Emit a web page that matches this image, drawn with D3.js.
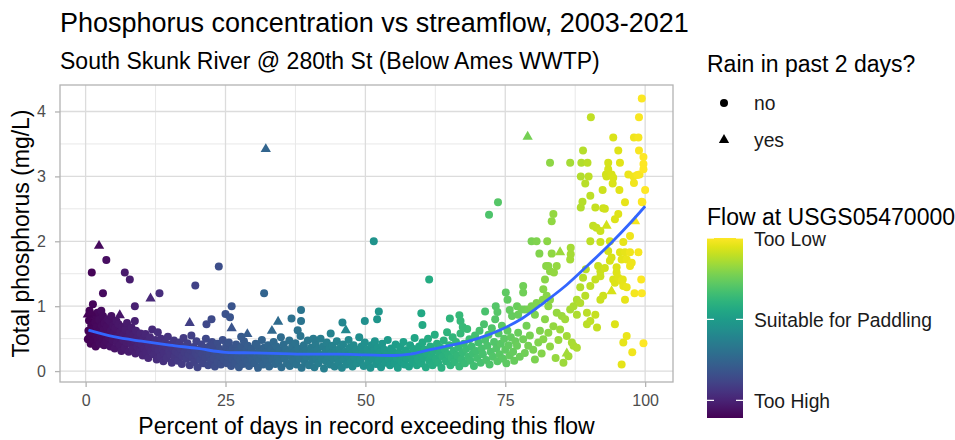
<!DOCTYPE html>
<html>
<head>
<meta charset="utf-8">
<script src="https://cdn.jsdelivr.net/npm/d3@7"></script>
<style>
  body { margin: 0; background: #fff; }
  svg { font-family: "Liberation Sans", Arial, sans-serif; }
</style>
</head>
<body>
<svg width="955" height="440"></svg>
<script>
// samples without rain: [percent of days exceeding flow, total phosphorus mg/L]
const rainNo = [
  [0.4,0.49],[0.5,0.62],[0.6,0.78],[0.7,0.93],[0.8,0.55],[0.9,0.42],[1.0,0.70],[1.1,0.85],[1.2,0.58],[1.3,1.03],
  [1.4,0.47],[1.5,0.66],[1.6,0.85],[1.7,0.75],[1.8,0.38],[1.9,0.55],[2.0,0.68],[2.1,0.90],[2.2,0.48],[2.3,0.61],
  [2.4,0.79],[2.5,0.42],[2.6,0.55],[2.8,0.93],[2.9,0.70],[3.0,0.50],[3.1,0.85],[3.2,0.63],[3.3,0.40],[3.4,0.74],
  [3.6,0.57],[3.7,0.46],[3.8,0.68],[4.0,0.80],[4.1,0.52],[4.3,0.77],[4.4,0.38],[4.5,0.62],[4.6,0.85],[4.8,0.47],
  [4.9,0.70],[5.0,0.58],[5.2,0.35],[5.3,0.66],[5.5,0.77],[5.6,0.44],[5.8,0.53],[5.9,0.72],[6.1,0.40],[6.2,0.60],
  [6.4,0.31],[6.5,0.68],[6.7,0.48],[6.8,0.56],[7.0,0.36],[7.1,0.64],[7.3,0.44],[7.4,0.74],[7.6,0.52],[7.7,0.30],
  [7.9,0.60],[8.1,0.42],[8.2,0.67],[8.4,0.34],[8.5,0.55],[8.7,0.47],[8.9,0.27],[9.0,0.62],[9.2,0.38],[9.3,0.52],
  [9.5,0.44],[9.7,0.30],[9.8,0.58],
  [10.0,0.41],[10.2,0.24],[10.3,0.50],[10.5,0.35],[10.7,0.57],[10.8,0.29],[11.0,0.45],[11.2,0.20],[11.3,0.38],[11.5,0.52],
  [11.7,0.31],[11.9,0.64],[12.0,0.43],[12.2,0.26],[12.4,0.36],[12.5,0.48],[12.7,0.18],[12.9,0.60],[13.0,0.32],[13.2,0.42],
  [13.4,0.22],[13.5,0.50],[13.7,0.35],[13.9,0.15],[14.0,0.28],[14.2,0.44],[14.4,0.38],[14.5,0.20],[14.7,0.53],[14.9,0.31],
  [15.1,0.25],[15.2,0.41],[15.4,0.13],[15.6,0.35],[15.8,0.47],[15.9,0.22],[16.1,0.30],[16.3,0.39],[16.5,0.16],[16.6,0.27],
  [16.8,0.44],[17.0,0.34],[17.2,0.11],[17.3,0.23],[17.5,0.51],[17.7,0.29],[17.9,0.38],[18.0,0.19],[18.2,0.43],[18.4,0.26],
  [18.6,0.09],[18.7,0.33],[18.9,0.55],[19.1,0.21],[19.3,0.37],[19.4,0.14],[19.6,0.28],[19.8,0.46],
  [20.0,0.06],[20.1,0.24],[20.3,0.33],[20.5,0.17],[20.7,0.41],[20.8,0.27],[21.0,0.12],[21.2,0.36],[21.4,0.21],[21.5,0.50],
  [21.7,0.30],[21.9,0.09],[22.1,0.25],[22.2,0.39],[22.4,0.16],[22.6,0.45],[22.8,0.32],[22.9,0.20],[23.1,0.07],[23.3,0.28],
  [23.5,0.42],[23.6,0.14],[23.8,0.35],[24.0,0.23],[24.2,0.10],[24.3,0.31],[24.5,0.48],[24.7,0.18],[24.9,0.27],[25.1,0.38],
  [25.3,0.12],[25.4,0.22],[25.6,0.44],[25.8,0.30],[26.0,0.08],[26.2,0.19],[26.3,0.35],[26.5,0.26],[26.7,0.13],[26.9,0.41],
  [27.1,0.22],[27.2,0.31],[27.4,0.06],[27.6,0.17],[27.8,0.37],[28.0,0.27],[28.1,0.11],[28.3,0.46],[28.5,0.21],[28.7,0.32],
  [28.9,0.15],[29.0,0.39],[29.2,0.08],[29.4,0.25],[29.6,0.34],[29.8,0.18],
  [30.0,0.28],[30.2,0.12],[30.4,0.42],[30.6,0.22],[30.8,0.05],[31.0,0.33],[31.1,0.17],[31.3,0.26],[31.5,0.48],[31.7,0.10],
  [31.9,0.36],[32.1,0.21],[32.3,0.30],[32.4,0.14],[32.6,0.40],[32.8,0.07],[33.0,0.25],[33.2,0.34],[33.4,0.18],[33.6,0.45],
  [33.7,0.28],[33.9,0.11],[34.1,0.38],[34.3,0.22],[34.5,0.15],[34.7,0.32],[34.9,0.52],[35.0,0.06],[35.2,0.26],[35.4,0.41],
  [35.6,0.19],[35.8,0.33],[36.0,0.12],[36.2,0.29],[36.4,0.47],[36.5,0.08],[36.7,0.23],[36.9,0.37],[37.1,0.16],[37.3,0.30],
  [37.5,0.43],[37.7,0.10],[37.9,0.25],[38.0,0.35],[38.2,0.19],[38.4,0.54],[38.6,0.05],[38.8,0.28],[39.0,0.40],[39.2,0.14],
  [39.4,0.32],[39.5,0.22],[39.7,0.47],[39.9,0.09],[40.1,0.27],[40.3,0.36],[40.5,0.17],[40.7,0.30],[40.9,0.06],[41.1,0.42],
  [41.2,0.21],[41.4,0.33],[41.6,0.12],[41.8,0.25],[42.0,0.50],[42.2,0.18],[42.4,0.38],[42.6,0.04],[42.8,0.29],[43.0,0.15],
  [43.1,0.44],[43.3,0.23],[43.5,0.34],[43.7,0.10],[43.9,0.27],[44.1,0.39],[44.3,0.19],[44.5,0.07],[44.7,0.31],[44.9,0.46],
  [45.0,0.22],[45.2,0.13],[45.4,0.35],[45.6,0.27],[45.8,0.05],[46.0,0.41],[46.2,0.18],[46.4,0.30],[46.6,0.10],[46.8,0.24],
  [47.0,0.48],[47.2,0.36],[47.4,0.15],[47.6,0.28],[47.7,0.07],[47.9,0.40],[48.1,0.21],[48.3,0.33],[48.5,0.12],[48.7,0.26],
  [48.9,0.52],[49.1,0.17],[49.3,0.38],[49.5,0.29],[49.7,0.08],[49.9,0.44],[50.1,0.23],[50.3,0.33],[50.5,0.14],[50.7,0.27],
  [50.9,0.05],[51.1,0.40],[51.3,0.19],[51.5,0.31],[51.7,0.46],[51.9,0.11],[52.0,0.25],[52.2,0.36],[52.4,0.16],[52.6,0.29],
  [52.8,0.06],[53.0,0.42],[53.2,0.21],[53.4,0.33],[53.6,0.13],[53.8,0.26],[54.0,0.48],[54.2,0.18],[54.4,0.09],[54.6,0.35],
  [54.8,0.23],[55.0,0.30],[55.2,0.12],[55.4,0.41],[55.6,0.20],[55.8,0.05],[56.0,0.27],[56.2,0.37],[56.4,0.15],[56.6,0.24],
  [56.8,0.45],[57.0,0.10],[57.2,0.32],[57.4,0.19],[57.6,0.28],[57.8,0.07],[58.0,0.40],[58.2,0.22],[58.4,0.14],[58.6,0.34],
  [58.8,0.51],[59.0,0.26],[59.2,0.09],[59.4,0.18],[59.6,0.38],[59.8,0.29],
  [60.0,0.12],[60.2,0.44],[60.4,0.21],[60.6,0.33],[60.8,0.06],[61.0,0.27],[61.2,0.50],[61.4,0.16],[61.6,0.38],[61.8,0.24],
  [62.0,0.09],[62.2,0.31],[62.4,0.56],[62.6,0.19],[62.8,0.42],[63.0,0.13],[63.2,0.28],[63.4,0.36],[63.6,0.05],[63.8,0.22],
  [64.0,0.47],[64.2,0.33],[64.4,0.15],[64.6,0.60],[64.8,0.26],[65.0,0.40],[65.2,0.09],[65.4,0.20],[65.6,0.52],[65.8,0.31],
  [66.0,0.14],[66.2,0.45],[66.4,0.24],[66.6,0.36],[66.8,0.07],[67.0,0.58],[67.2,0.18],[67.4,0.29],[67.6,0.42],[67.8,0.12],
  [68.0,0.34],[68.2,0.65],[68.4,0.22],[68.6,0.49],[68.8,0.16],[69.0,0.38],[69.2,0.27],[69.4,0.08],[69.6,0.55],[69.8,0.31],
  [70.0,0.20],[70.2,0.44],[70.4,0.62],[70.6,0.13],[70.8,0.35],[71.0,0.26],[71.2,0.72],[71.4,0.48],[71.6,0.17],[71.8,0.39],
  [72.0,0.56],[72.2,0.10],[72.4,0.30],[72.6,0.66],[72.8,0.22],[73.0,0.45],[73.2,0.80],[73.4,0.35],[73.6,0.15],[73.8,0.58],
  [74.0,0.26],[74.2,0.42],[74.4,0.70],[74.6,0.19],[74.8,0.50],[75.0,0.33],[75.2,0.12],[75.4,0.62],[75.6,0.40],[75.8,0.24],
  [76.0,0.52],[76.2,0.85],[76.4,0.30],[76.6,0.16],[76.8,0.46],
  [77.1,1.00],[77.3,0.59],[77.1,0.39],[77.3,0.87],[77.6,0.22],[77.9,0.95],[78.2,0.49],[78.2,1.31],[78.2,1.21],[78.5,0.28],
  [78.5,0.95],[78.8,0.70],[79.1,0.39],[79.1,0.95],[79.4,0.55],[79.7,1.00],[79.7,2.00],[80.0,0.33],[80.0,0.98],[80.3,0.87],
  [80.3,0.18],[80.6,1.05],[80.6,2.00],[80.9,0.44],[81.1,1.81],[81.2,0.62],[81.5,0.27],[81.7,1.10],[81.8,0.49],[81.8,1.26],
  [82.1,1.41],[82.1,0.80],[82.3,1.62],[82.4,1.16],[82.5,2.00],[82.7,0.59],[82.7,1.62],[82.7,1.00],[83.0,1.10],[83.0,1.54],
  [83.0,0.38],[83.0,3.21],[83.3,1.81],[83.3,2.31],[83.6,0.69],[83.6,2.42],[83.7,1.52],[84.0,0.20],[84.2,0.90],[84.2,1.62],
  [84.5,0.48],[84.8,0.64],[85.1,0.85],[85.4,0.13],[85.7,0.80],[86.0,0.54],[86.3,0.23],[86.6,0.95],[86.6,1.72],[86.6,3.21],
  [86.7,1.80],[86.7,1.90],[86.9,0.44],[87.2,1.00],[87.2,0.39],[87.8,0.87],[87.8,0.36],[87.8,1.10],[88.4,1.05],[88.4,1.29],
  [88.5,2.52],[88.5,3.00],[88.6,3.21],[88.8,2.61],[88.9,1.44],[88.9,3.40],[89.3,1.16],[89.3,2.89],[89.4,1.57],[89.6,0.72],
  [89.6,0.90],[89.7,3.21],[89.9,3.00],
  [90.2,0.77],[90.2,1.31],[90.2,2.00],[90.2,2.70],[90.3,3.91],[90.7,2.24],[91.1,0.87],[91.1,1.41],[91.1,2.52],[91.3,2.21],
  [91.4,0.67],[91.6,1.62],[92.0,1.46],[92.0,1.99],[92.0,1.54],[92.0,1.10],[92.0,2.16],[92.4,2.79],[92.5,1.16],[92.5,2.51],
  [92.8,1.59],[92.8,2.50],[93.0,3.03],[93.1,3.00],[93.4,1.85],[93.4,3.11],[93.4,3.21],[93.7,2.00],[93.7,1.70],[94.0,1.75],
  [94.0,3.03],[94.2,2.89],[94.3,1.41],[94.3,2.98],[94.3,3.60],[94.6,1.36],[94.6,0.72],[94.6,2.34],[94.9,1.52],[94.9,1.60],
  [95.2,1.44],[95.2,2.42],[95.2,3.40],[95.4,2.79],[95.5,1.83],[95.5,3.21],[95.8,1.72],[95.8,1.39],[95.8,0.10],[96.0,1.41],
  [96.1,1.99],[96.1,0.44],[96.1,1.31],[96.4,1.83],[96.4,1.10],[96.4,2.60],[96.7,1.72],[96.7,0.54],[96.7,1.29],[97.0,3.03],
  [97.3,1.83],[97.3,1.62],[97.3,2.08],[97.6,1.67],[97.7,0.29],[97.9,3.00],[98.0,2.90],[98.0,3.60],[98.1,1.20],[98.6,3.02],
  [98.8,1.83],[98.8,3.60],[98.9,3.40],[98.9,3.91],[99.0,3.03],[99.3,1.41],[99.4,1.20],[99.4,2.61],[99.4,4.20],[99.5,2.60],
  [99.7,3.30],[99.7,3.19],[99.7,3.11],[99.7,0.43],[100.0,2.79],
  // scattered points above the main band
  [1.1,1.52],[3.7,1.71],[7.0,1.52],[7.9,1.41],[3.1,1.20],[13.2,1.20],[19.6,1.32],[8.8,1.00],[8.8,0.77],[26.1,1.00],
  [25.0,0.88],[25.8,0.83],[21.6,0.72],[22.5,0.80],[23.8,1.61],[31.9,1.20],[36.8,0.81],[38.5,0.94],[38.5,0.77],[37.9,0.63],
  [30.6,0.40],[27.8,0.53],[45.9,0.75],[43.8,0.58],[49.9,0.77],[52.4,0.92],[52.1,0.80],[40.7,0.50],[51.5,2.00],[61.4,1.41],
  [60.0,0.89],[60.2,0.71],[65.1,0.81],[66.8,0.86],[67.0,0.77],[67.4,0.68],[71.4,0.92],[73.3,1.00],[73.6,0.91],[75.1,1.21],
  [75.4,1.10],[75.8,0.94],[72.1,2.41],[73.7,2.60]
];

// samples with rain in the past 2 days
const rainYes = [
  [0.4,0.87],[1.0,0.90],[2.4,1.93],[6.1,0.86],[11.6,1.12],[18.6,0.74],[22.5,0.39],[26.1,0.66],[28.9,0.57],[32.2,3.42],
  [33.3,0.62],[34.4,0.76],[46.5,0.63],[79.0,3.61],[84.8,1.83],[86.0,0.27],[93.1,2.24],[94.0,1.23],[98.2,2.31]
];

// loess trend
const smoothPct = [0.5, 5, 10, 15, 20, 25, 30, 35, 40, 45, 50, 55, 58, 62, 66, 70, 74, 78, 82, 86, 90, 94, 97, 100];
const smoothP = [0.63, 0.53, 0.46, 0.40, 0.35, 0.29, 0.28, 0.27, 0.26, 0.26, 0.25, 0.24, 0.26, 0.34, 0.41, 0.50, 0.63, 0.81, 1.06, 1.33, 1.65, 1.98, 2.25, 2.54];

const xTicks = [0, 25, 50, 75, 100];
const xMinor = [12.5, 37.5, 62.5, 87.5];
const yTicks = [0, 1, 2, 3, 4];
const yMinor = [0.5, 1.5, 2.5, 3.5];

const shapeLabels = ["no", "yes"];
const flowLabels = ["Too High", "Suitable for Paddling", "Too Low"];
const flowBreaks = [0.098, 0.548, 1.0];

const svg = d3.select("svg");
const panel = {left: 60, right: 673, top: 85, bottom: 382};

// ggplot style 5% expansion
const allPts = rainNo.concat(rainYes);
const xExt = d3.extent(allPts, d => d[0]);
const yExt = d3.extent(allPts, d => d[1]);
const xPad = (xExt[1] - xExt[0]) * 0.05;
const yPad = (yExt[1] - yExt[0]) * 0.05;

const x = d3.scaleLinear().domain([xExt[0] - xPad, xExt[1] + xPad]).range([panel.left, panel.right]);
const y = d3.scaleLinear().domain([yExt[0] - yPad, yExt[1] + yPad]).range([panel.bottom, panel.top]);
const color = d3.scaleSequential(d3.interpolateViridis).domain([0, 100]);

// grid
const grid = svg.append("g");
grid.selectAll(".vmin").data(xMinor).enter().append("line")
  .attr("x1", d => x(d)).attr("x2", d => x(d))
  .attr("y1", panel.top).attr("y2", panel.bottom)
  .attr("stroke", "#e8e8e8").attr("stroke-width", 1);
grid.selectAll(".hmin").data(yMinor).enter().append("line")
  .attr("x1", panel.left).attr("x2", panel.right)
  .attr("y1", d => y(d)).attr("y2", d => y(d))
  .attr("stroke", "#e8e8e8").attr("stroke-width", 1);
grid.selectAll(".vmaj").data(xTicks).enter().append("line")
  .attr("x1", d => x(d)).attr("x2", d => x(d))
  .attr("y1", panel.top).attr("y2", panel.bottom)
  .attr("stroke", "#dcdcdc").attr("stroke-width", 1.3);
grid.selectAll(".hmaj").data(yTicks).enter().append("line")
  .attr("x1", panel.left).attr("x2", panel.right)
  .attr("y1", d => y(d)).attr("y2", d => y(d))
  .attr("stroke", "#dcdcdc").attr("stroke-width", 1.3);

// points
svg.append("g").selectAll("circle").data(rainNo).enter().append("circle")
  .attr("cx", d => x(d[0]))
  .attr("cy", d => y(d[1]))
  .attr("r", 4)
  .attr("fill", d => color(d[0]));

const tri = d3.symbol().type(d3.symbolTriangle).size(46);
svg.append("g").selectAll("path").data(rainYes).enter().append("path")
  .attr("d", tri)
  .attr("transform", d => `translate(${x(d[0])},${y(d[1])})`)
  .attr("fill", d => color(d[0]));

// trend
const line = d3.line()
  .x(d => x(d))
  .y((d, i) => y(smoothP[i]))
  .curve(d3.curveMonotoneX);
svg.append("path")
  .datum(smoothPct)
  .attr("d", line)
  .attr("fill", "none")
  .attr("stroke", "#3366FF")
  .attr("stroke-width", 2.8);

// panel border
svg.append("rect")
  .attr("x", panel.left).attr("y", panel.top)
  .attr("width", panel.right - panel.left).attr("height", panel.bottom - panel.top)
  .attr("fill", "none").attr("stroke", "#b3b3b3").attr("stroke-width", 1.3);

// axes
const xAxis = svg.append("g")
  .attr("transform", `translate(0,${panel.bottom})`)
  .call(d3.axisBottom(x).tickValues(xTicks).tickSize(5).tickPadding(8));
const yAxis = svg.append("g")
  .attr("transform", `translate(${panel.left},0)`)
  .call(d3.axisLeft(y).tickValues(yTicks).tickFormat(d3.format("d")).tickSize(5).tickPadding(9));
[xAxis, yAxis].forEach(a => {
  a.select(".domain").remove();
  a.selectAll(".tick line").attr("stroke", "#b3b3b3").attr("stroke-width", 1.3);
  a.selectAll(".tick text").attr("fill", "#4d4d4d").style("font-size", "16px")
    .style("font-family", "'Liberation Sans', Arial, sans-serif");
});

// titles
svg.append("text").attr("x", 60).attr("y", 32)
  .style("font-size", "27px").attr("fill", "#000")
  .text("Phosphorus concentration vs streamflow, 2003-2021");
svg.append("text").attr("x", 60).attr("y", 69)
  .style("font-size", "23px").attr("fill", "#000")
  .text("South Skunk River @ 280th St (Below Ames WWTP)");
svg.append("text")
  .attr("x", (panel.left + panel.right) / 2).attr("y", 434)
  .attr("text-anchor", "middle").style("font-size", "23px")
  .text("Percent of days in record exceeding this flow");
svg.append("text")
  .attr("transform", `translate(29,${(panel.top + panel.bottom) / 2}) rotate(-90)`)
  .attr("text-anchor", "middle").style("font-size", "23px")
  .text("Total phosphorus (mg/L)");

// shape legend
const lg = svg.append("g");
lg.append("text").attr("x", 707).attr("y", 72).style("font-size", "23px").text("Rain in past 2 days?");
const shapeY = [103, 140];
lg.append("circle").attr("cx", 724).attr("cy", shapeY[0]).attr("r", 4).attr("fill", "#000");
lg.append("path").attr("d", tri).attr("transform", `translate(724,${shapeY[1]})`).attr("fill", "#000");
lg.selectAll(".sl").data(shapeLabels).enter().append("text")
  .attr("x", 754).attr("y", (d, i) => shapeY[i] + 7)
  .style("font-size", "19.3px").attr("fill", "#1a1a1a")
  .text(d => d);

// colour legend
lg.append("text").attr("x", 707).attr("y", 225).style("font-size", "23px").text("Flow at USGS05470000");
const bar = {x: 707, y: 238, w: 36, h: 180};
const grad = svg.append("defs").append("linearGradient")
  .attr("id", "viridis").attr("x1", 0).attr("y1", 1).attr("x2", 0).attr("y2", 0);
d3.range(0, 1.0001, 0.05).forEach(t => {
  grad.append("stop").attr("offset", t).attr("stop-color", d3.interpolateViridis(t));
});
lg.append("rect").attr("x", bar.x).attr("y", bar.y).attr("width", bar.w).attr("height", bar.h)
  .attr("fill", "url(#viridis)");
const ly = d3.scaleLinear().domain([0, 1]).range([bar.y + bar.h, bar.y]);
flowBreaks.forEach(b => {
  lg.append("line").attr("x1", bar.x).attr("x2", bar.x + 7).attr("y1", ly(b)).attr("y2", ly(b))
    .attr("stroke", "#fff").attr("stroke-width", 1.2);
  lg.append("line").attr("x1", bar.x + bar.w - 7).attr("x2", bar.x + bar.w).attr("y1", ly(b)).attr("y2", ly(b))
    .attr("stroke", "#fff").attr("stroke-width", 1.2);
});
lg.selectAll(".fl").data(flowLabels).enter().append("text")
  .attr("x", 754).attr("y", (d, i) => ly(flowBreaks[i]) + 8)
  .style("font-size", "19.3px").attr("fill", "#1a1a1a")
  .text(d => d);
</script>
</body>
</html>
